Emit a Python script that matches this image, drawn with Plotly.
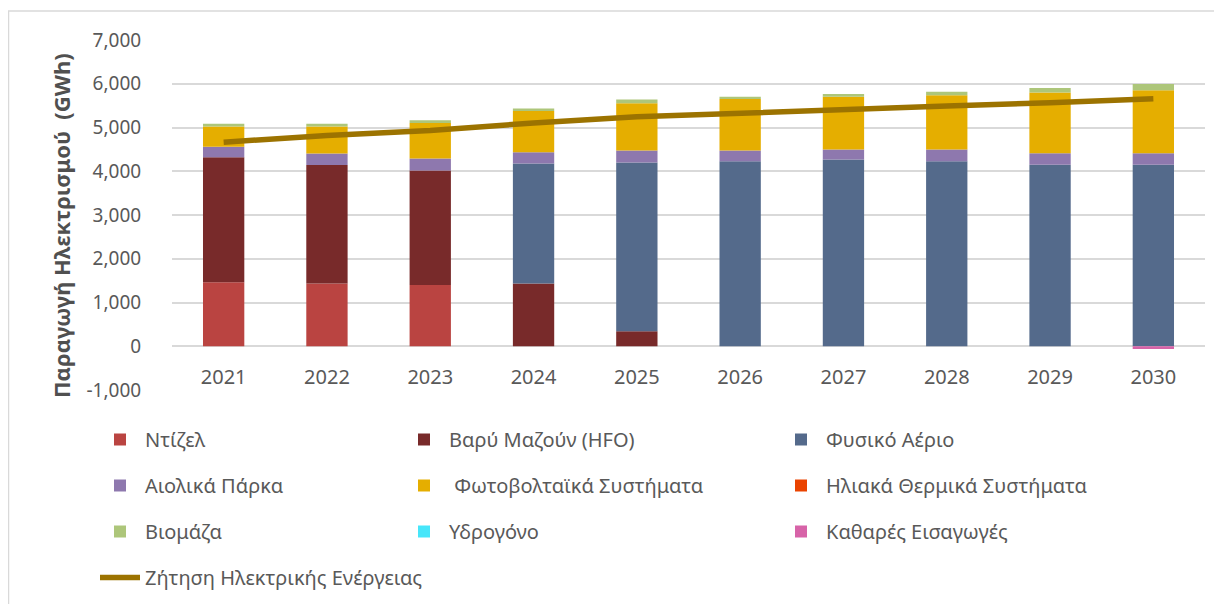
import plotly.graph_objects as go

years = ["2021", "2022", "2023", "2024", "2025", "2026", "2027", "2028", "2029", "2030"]

diesel = [1465, 1435, 1400, 0, 0, 0, 0, 0, 0, 0]
hfo = [2855, 2710, 2620, 1435, 345, 0, 0, 0, 0, 0]
gas = [0, 0, 0, 2740, 3855, 4230, 4270, 4230, 4150, 4150]
wind = [240, 260, 270, 260, 275, 245, 230, 270, 260, 260]
pv = [465, 620, 815, 940, 1080, 1175, 1205, 1240, 1390, 1440]
solar_thermal = [0, 0, 0, 0, 0, 0, 0, 0, 0, 0]
biomass = [60, 60, 60, 60, 85, 55, 60, 80, 105, 145]
hydrogen = [0, 0, 0, 0, 0, 0, 0, 0, 0, 0]
net_imports = [0, 0, 0, 0, 0, 0, 0, 0, 0, -60]
demand = [4665, 4815, 4930, 5105, 5245, 5335, 5410, 5490, 5565, 5655]

y_tickvals = [-1000, 0, 1000, 2000, 3000, 4000, 5000, 6000, 7000]
y_ticktext = ["-1,000", "0", "1,000", "2,000", "3,000", "4,000", "5,000", "6,000", "7,000"]
y_title = "<b>Παραγωγή Ηλεκτρισμού  (GWh)</b>"

FONT = "Noto Sans"
TXT = "#595959"
CLEAR = "rgba(0,0,0,0)"

# page has an 8px body margin, so the figure is sized to fill the rest
W, H = 1214, 596
L, R, T, B = 164, 17, 32, 214
PW, PH = W - L - R, H - T - B

series = [
    ("Ντίζελ", diesel, "#BA4441", "legend"),
    ("Βαρύ Μαζούν (HFO)", hfo, "#782A2A", "legend2"),
    ("Φυσικό Αέριο", gas, "#546A8B", "legend3"),
    ("Αιολικά Πάρκα", wind, "#8E78AE", "legend"),
    (" Φωτοβολταϊκά Συστήματα", pv, "#E5AE00", "legend2"),
    ("Ηλιακά Θερμικά Συστήματα", solar_thermal, "#EA4300", "legend3"),
    ("Βιομάζα", biomass, "#ADC67A", "legend"),
    ("Υδρογόνο", hydrogen, "#47E6FA", "legend2"),
    ("Καθαρές Εισαγωγές", net_imports, "#D763A8", "legend3"),
]

fig = go.Figure()
for i, (name, vals, col, lg) in enumerate(series):
    fig.add_trace(go.Bar(
        x=years, y=vals, name=name, marker=dict(color=col, line=dict(width=0)),
        legend=lg, legendgroup="g%d" % i,
    ))

fig.add_trace(go.Scatter(
    x=years, y=demand, name="Ζήτηση Ηλεκτρικής Ενέργειας", mode="lines",
    line=dict(color="#9C7300", width=5.5), legend="legend", legendgroup="gd",
))

leg_common = dict(
    font=dict(family=FONT, size=20, color=TXT), bgcolor=CLEAR,
    tracegroupgap=17, yanchor="top", xanchor="left", orientation="v",
    itemwidth=40, xref="container", yref="container",
)

LEG_Y = (H - 412) / H

fig.update_layout(
    width=W, height=H,
    margin=dict(l=L, r=R, t=T, b=B, autoexpand=False),
    paper_bgcolor="white", plot_bgcolor="white",
    barmode="relative", bargap=0.6,
    font=dict(family=FONT, color=TXT),
    xaxis=dict(
        type="category", showgrid=False, showline=False,
        ticks="outside", ticklen=13, tickcolor=CLEAR,
        anchor="free", position=0.125, automargin=False,
        tickfont=dict(family=FONT, size=20, color=TXT),
    ),
    yaxis=dict(
        range=[-1000, 7000], tickvals=y_tickvals, ticktext=y_ticktext,
        showgrid=True, gridcolor="#D9D9D9", gridwidth=1.5,
        zeroline=True, zerolinecolor="#D9D9D9", zerolinewidth=1.5,
        showline=False, ticks="outside", ticklen=26, tickcolor=CLEAR,
        automargin=False,
        tickfont=dict(family=FONT, size=19, color=TXT),
    ),
    annotations=[
        dict(text=y_title, textangle=-90, xref="paper", yref="paper",
             x=(53 - L) / PW, y=(T + PH - 218) / PH, xanchor="center", yanchor="middle",
             showarrow=False, font=dict(family=FONT, size=22, color="#505050")),
    ],
    legend=dict(x=87 / W, y=LEG_Y, **leg_common),
    legend2=dict(x=391 / W, y=LEG_Y, **leg_common),
    legend3=dict(x=768 / W, y=LEG_Y, **leg_common),
    shapes=[
        dict(type="line", xref="paper", yref="paper", x0=-L / PW + 0.5 / PW, x1=-L / PW + 0.5 / PW,
             y0=(PH + T - 3) / PH, y1=-B / PH, line=dict(color="#D9D9D9", width=1.5)),
        dict(type="line", xref="paper", yref="paper", x0=-L / PW, x1=(W - L) / PW,
             y0=(PH + T - 3) / PH, y1=(PH + T - 3) / PH, line=dict(color="#D9D9D9", width=1.5)),
    ],
)

fig.write_html("out.html")
